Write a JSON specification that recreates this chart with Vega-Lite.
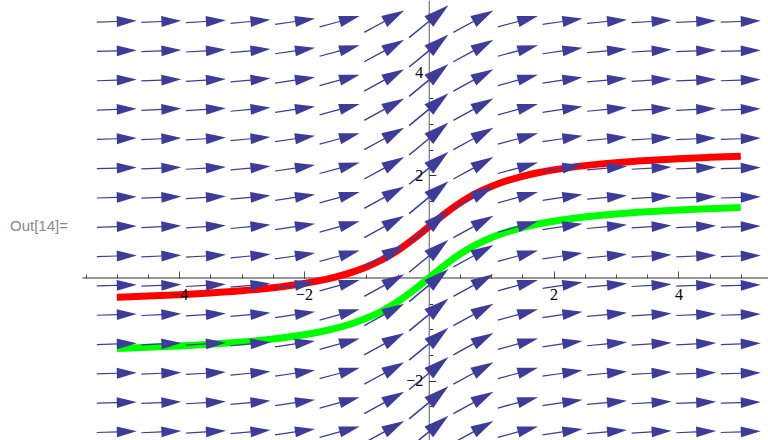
{
  "$schema": "https://vega.github.io/schema/vega-lite/v6.json",
  "width": 768,
  "height": 440,
  "padding": 0,
  "autosize": {"type": "none"},
  "background": "white",
  "config": {"view": {"stroke": null}},
  "datasets": {
    "label": [{"t": "Out[14]="}],
    "arrows": [
      {"x": -5, "dir": -1.8, "m": 1.0007, "ys": [-3,-2.4286,-1.8571,-1.2857,-0.7143,-0.1429,0.4286,1,1.5714,2.1429,2.7143,3.2857,3.8571,4.4286,5]},
      {"x": -4.2857, "dir": -2.4, "m": 1.0013, "ys": [-3,-2.4286,-1.8571,-1.2857,-0.7143,-0.1429,0.4286,1,1.5714,2.1429,2.7143,3.2857,3.8571,4.4286,5]},
      {"x": -3.5714, "dir": -3.4, "m": 1.0026, "ys": [-3,-2.4286,-1.8571,-1.2857,-0.7143,-0.1429,0.4286,1,1.5714,2.1429,2.7143,3.2857,3.8571,4.4286,5]},
      {"x": -2.8571, "dir": -5.2, "m": 1.0059, "ys": [-3,-2.4286,-1.8571,-1.2857,-0.7143,-0.1429,0.4286,1,1.5714,2.1429,2.7143,3.2857,3.8571,4.4286,5]},
      {"x": -2.1429, "dir": -8.4, "m": 1.0159, "ys": [-3,-2.4286,-1.8571,-1.2857,-0.7143,-0.1429,0.4286,1,1.5714,2.1429,2.7143,3.2857,3.8571,4.4286,5]},
      {"x": -1.4286, "dir": -15.2, "m": 1.0527, "ys": [-3,-2.4286,-1.8571,-1.2857,-0.7143,-0.1429,0.4286,1,1.5714,2.1429,2.7143,3.2857,3.8571,4.4286,5]},
      {"x": -0.7143, "dir": -28.7, "m": 1.1994, "ys": [-3,-2.4286,-1.8571,-1.2857,-0.7143,-0.1429,0.4286,1,1.5714,2.1429,2.7143,3.2857,3.8571,4.4286,5]},
      {"x": 0, "dir": -39.5, "m": 1.4142, "ys": [-3,-2.4286,-1.8571,-1.2857,-0.7143,-0.1429,0.4286,1,1.5714,2.1429,2.7143,3.2857,3.8571,4.4286,5]},
      {"x": 0.7143, "dir": -28.7, "m": 1.1994, "ys": [-3,-2.4286,-1.8571,-1.2857,-0.7143,-0.1429,0.4286,1,1.5714,2.1429,2.7143,3.2857,3.8571,4.4286,5]},
      {"x": 1.4286, "dir": -15.2, "m": 1.0527, "ys": [-3,-2.4286,-1.8571,-1.2857,-0.7143,-0.1429,0.4286,1,1.5714,2.1429,2.7143,3.2857,3.8571,4.4286,5]},
      {"x": 2.1429, "dir": -8.4, "m": 1.0159, "ys": [-3,-2.4286,-1.8571,-1.2857,-0.7143,-0.1429,0.4286,1,1.5714,2.1429,2.7143,3.2857,3.8571,4.4286,5]},
      {"x": 2.8571, "dir": -5.2, "m": 1.0059, "ys": [-3,-2.4286,-1.8571,-1.2857,-0.7143,-0.1429,0.4286,1,1.5714,2.1429,2.7143,3.2857,3.8571,4.4286,5]},
      {"x": 3.5714, "dir": -3.4, "m": 1.0026, "ys": [-3,-2.4286,-1.8571,-1.2857,-0.7143,-0.1429,0.4286,1,1.5714,2.1429,2.7143,3.2857,3.8571,4.4286,5]},
      {"x": 4.2857, "dir": -2.4, "m": 1.0013, "ys": [-3,-2.4286,-1.8571,-1.2857,-0.7143,-0.1429,0.4286,1,1.5714,2.1429,2.7143,3.2857,3.8571,4.4286,5]},
      {"x": 5, "dir": -1.8, "m": 1.0007, "ys": [-3,-2.4286,-1.8571,-1.2857,-0.7143,-0.1429,0.4286,1,1.5714,2.1429,2.7143,3.2857,3.8571,4.4286,5]}
    ],
    "green": [
      {"x": -5, "y": -1.373}, {"x": -4.5, "y": -1.352}, {"x": -4, "y": -1.326}, {"x": -3.5, "y": -1.292},
      {"x": -3, "y": -1.249}, {"x": -2.5, "y": -1.19}, {"x": -2, "y": -1.107}, {"x": -1.75, "y": -1.052},
      {"x": -1.5, "y": -0.983}, {"x": -1.25, "y": -0.896}, {"x": -1, "y": -0.785}, {"x": -0.75, "y": -0.644},
      {"x": -0.5, "y": -0.464}, {"x": -0.25, "y": -0.245}, {"x": 0, "y": 0}, {"x": 0.25, "y": 0.245},
      {"x": 0.5, "y": 0.464}, {"x": 0.75, "y": 0.644}, {"x": 1, "y": 0.785}, {"x": 1.25, "y": 0.896},
      {"x": 1.5, "y": 0.983}, {"x": 1.75, "y": 1.052}, {"x": 2, "y": 1.107}, {"x": 2.5, "y": 1.19},
      {"x": 3, "y": 1.249}, {"x": 3.5, "y": 1.292}, {"x": 4, "y": 1.326}, {"x": 4.5, "y": 1.352}, {"x": 5, "y": 1.373}
    ],
    "red": [
      {"x": -5, "y": -0.373}, {"x": -4.5, "y": -0.352}, {"x": -4, "y": -0.326}, {"x": -3.5, "y": -0.292},
      {"x": -3, "y": -0.249}, {"x": -2.5, "y": -0.19}, {"x": -2, "y": -0.107}, {"x": -1.75, "y": -0.052},
      {"x": -1.5, "y": 0.017}, {"x": -1.25, "y": 0.104}, {"x": -1, "y": 0.215}, {"x": -0.75, "y": 0.356},
      {"x": -0.5, "y": 0.536}, {"x": -0.25, "y": 0.755}, {"x": 0, "y": 1}, {"x": 0.25, "y": 1.245},
      {"x": 0.5, "y": 1.464}, {"x": 0.75, "y": 1.644}, {"x": 1, "y": 1.785}, {"x": 1.25, "y": 1.896},
      {"x": 1.5, "y": 1.983}, {"x": 1.75, "y": 2.052}, {"x": 2, "y": 2.107}, {"x": 2.5, "y": 2.19},
      {"x": 3, "y": 2.249}, {"x": 3.5, "y": 2.292}, {"x": 4, "y": 2.326}, {"x": 4.5, "y": 2.352}, {"x": 5, "y": 2.373}
    ]
  },
  "resolve": {"axis": {"x": "independent", "y": "independent"}},
  "layer": [
    {
      "data": {"name": "label"},
      "mark": {"type": "rule", "color": "#333333", "strokeWidth": 1},
      "encoding": {
        "x": {"datum": -5.55, "type": "quantitative", "scale": {"domain": [-6.872, 5.436], "nice": false, "zero": false}, "axis": null},
        "x2": {"datum": 5.44},
        "y": {"datum": 0, "type": "quantitative", "scale": {"domain": [-3.158, 5.419], "nice": false, "zero": false}, "axis": null}
      }
    },
    {
      "data": {"name": "red"},
      "mark": {"type": "line", "color": "#ff0000", "strokeWidth": 7, "strokeCap": "butt", "interpolate": "monotone"},
      "encoding": {
        "x": {"field": "x", "type": "quantitative", "scale": {"domain": [-6.872, 5.436], "nice": false, "zero": false},
          "axis": {"orient": "top", "offset": -278, "domain": false, "labels": false, "grid": false, "title": null, "ticks": true, "tickSize": 4, "tickColor": "#555555", "tickWidth": 1,
            "values": [-5.5,-5,-4.5,-4,-3.5,-3,-2.5,-2,-1.5,-1,-0.5,0.5,1,1.5,2,2.5,3,3.5,4,4.5,5]}},
        "y": {"field": "y", "type": "quantitative", "scale": {"domain": [-3.158, 5.419], "nice": false, "zero": false},
          "axis": {"orient": "right", "offset": -339.2, "domain": true, "domainColor": "#808080", "domainWidth": 1.3, "labels": false, "grid": false, "title": null, "ticks": true, "tickSize": 4, "tickColor": "#333333", "tickWidth": 1,
            "values": [-3,-2.5,-2,-1.5,-1,-0.5,0.5,1,1.5,2,2.5,3,3.5,4,4.5,5]}}
      }
    },
    {
      "data": {"name": "green"},
      "mark": {"type": "line", "color": "#00ff00", "strokeWidth": 7, "strokeCap": "butt", "interpolate": "monotone"},
      "encoding": {
        "x": {"field": "x", "type": "quantitative", "scale": {"domain": [-6.872, 5.436], "nice": false, "zero": false},
          "axis": {"orient": "top", "offset": -278, "domain": false, "labels": false, "grid": false, "title": null, "ticks": true, "tickSize": 7, "tickColor": "#555555", "tickWidth": 1,
            "values": [-4,-2,2,4]}},
        "y": {"field": "y", "type": "quantitative", "scale": {"domain": [-3.158, 5.419], "nice": false, "zero": false},
          "axis": {"orient": "right", "offset": -339.2, "domain": false, "labels": false, "grid": false, "title": null, "ticks": true, "tickSize": 7, "tickColor": "#333333", "tickWidth": 1,
            "values": [-2,2,4]}}
      }
    },
    {
      "data": {"name": "arrows"},
      "transform": [{"flatten": ["ys"], "as": ["y"]}],
      "mark": {"type": "point", "shape": "M-1,-0.03L0,-0.03L0,-0.27L1,0L0,0.27L0,0.03L-1,0.03Z", "filled": true, "opacity": 1, "color": "#3d3d99", "strokeWidth": 0},
      "encoding": {
        "x": {"field": "x", "type": "quantitative", "scale": {"domain": [-6.872, 5.436], "nice": false, "zero": false},
          "axis": {"orient": "bottom", "offset": -162, "domain": false, "ticks": false, "tickSize": 0, "grid": false, "title": null, "labels": true, "labelPadding": 8, "labelFont": "Liberation Serif", "labelFontSize": 16, "labelColor": "#000000", "zindex": 1,
            "values": [-4,-2,2,4]}},
        "y": {"field": "y", "type": "quantitative", "scale": {"domain": [-3.158, 5.419], "nice": false, "zero": false},
          "axis": {"orient": "left", "offset": -428.8, "domain": false, "ticks": false, "tickSize": 0, "grid": false, "title": null, "labels": true, "labelPadding": 6, "labelFont": "Liberation Serif", "labelFontSize": 16, "labelColor": "#000000", "zindex": 1,
            "values": [-2,2,4]}},
        "angle": {"field": "dir", "type": "quantitative", "scale": null},
        "size": {"field": "m", "type": "quantitative", "scale": {"domain": [1, 1.4142], "range": [1600, 2601], "zero": false}, "legend": null}
      }
    },
    {
      "data": {"name": "label"},
      "mark": {"type": "text", "font": "Liberation Sans", "fontSize": 15, "align": "left", "baseline": "alphabetic"},
      "encoding": {
        "x": {"datum": -6.712, "type": "quantitative", "scale": {"domain": [-6.872, 5.436], "nice": false, "zero": false}, "axis": null},
        "y": {"datum": 0.916, "type": "quantitative", "scale": {"domain": [-3.158, 5.419], "nice": false, "zero": false}, "axis": null},
        "text": {"field": "t", "type": "nominal"},
        "color": {"value": "#888888"}
      }
    }
  ]
}
